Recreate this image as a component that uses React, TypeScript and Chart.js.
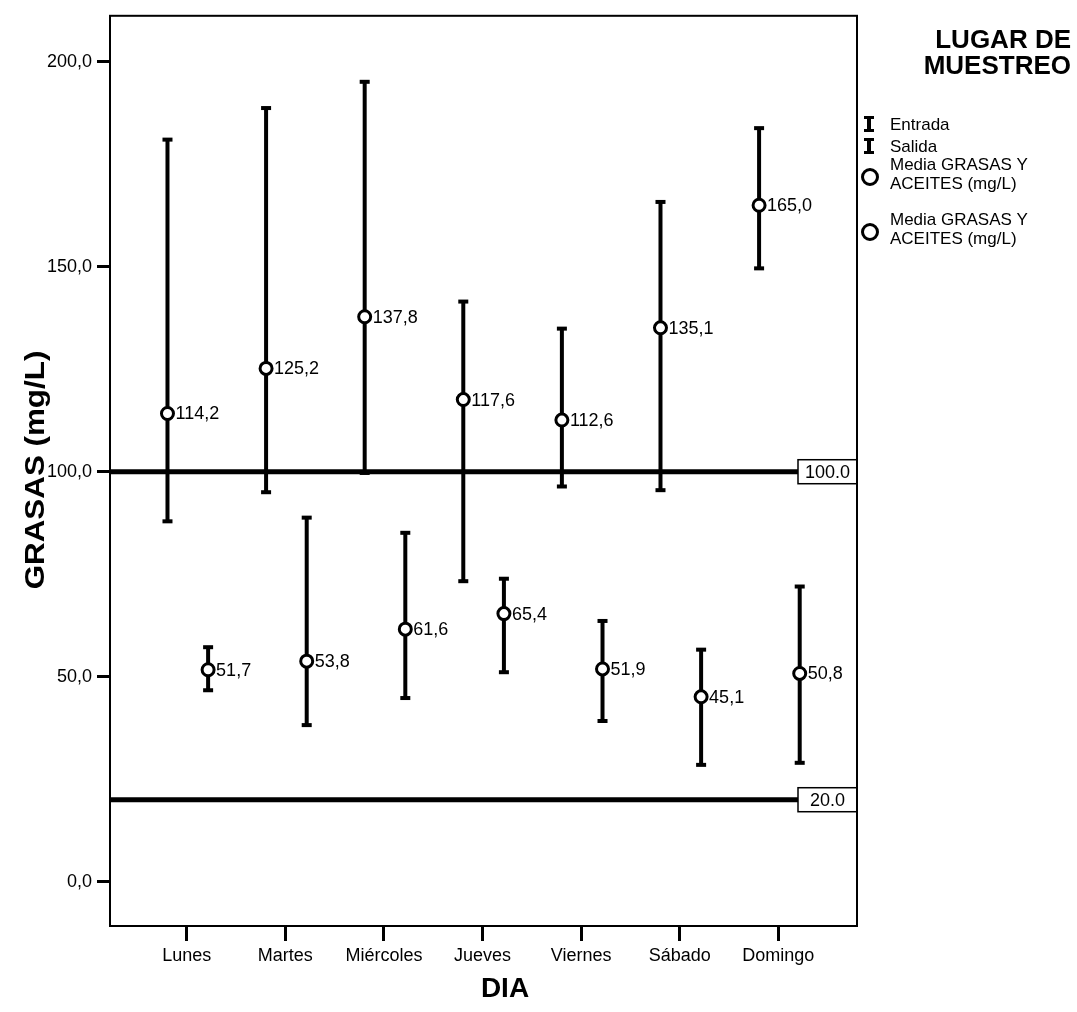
import React, { useEffect, useRef } from "react";
import { Chart, registerables } from "chart.js";

Chart.register(...registerables);

const days = ["Lunes", "Martes", "Miércoles", "Jueves", "Viernes", "Sábado", "Domingo"];
const entradaMean = [114.2, 125.2, 137.8, 117.6, 112.6, 135.1, 165.0];
const entradaLow = [87.9, 95.0, 99.7, 73.3, 96.4, 95.5, 149.6];
const entradaHigh = [181.0, 188.7, 195.1, 141.5, 134.9, 165.8, 183.8];
const salidaMean = [51.7, 53.8, 61.6, 65.4, 51.9, 45.1, 50.8];
const salidaLow = [46.7, 38.2, 44.8, 51.1, 39.2, 28.5, 29.0];
const salidaHigh = [57.2, 88.8, 85.1, 73.9, 63.6, 56.6, 72.0];
const refLines = [100, 20];
const yTicks = [0, 50, 100, 150, 200];
const legendTitle = ["LUGAR DE", "MUESTREO"];
const legendItems = ["Entrada", "Salida"];
const meanLegend = ["Media GRASAS Y", "ACEITES (mg/L)"];

const ENTRADA_OFF = -0.195;
const SALIDA_OFF = 0.217;
const FONT = "'Liberation Sans', Arial, sans-serif";
const fmt = (v: number) => v.toFixed(1).replace(".", ",");

const groups = [
  { off: ENTRADA_OFF, mean: entradaMean, low: entradaLow, high: entradaHigh },
  { off: SALIDA_OFF, mean: salidaMean, low: salidaLow, high: salidaHigh },
];

const customPlugin = {
  id: "custom",
  beforeDatasetsDraw(chart: any) {
    const { ctx, chartArea, scales } = chart;
    const xs = scales.x;
    const ys = scales.y;
    ctx.save();
    refLines.forEach((v) => {
      const y = ys.getPixelForValue(v);
      const boxL = 798;
      ctx.strokeStyle = "#000";
      ctx.lineWidth = 5;
      ctx.beginPath();
      ctx.moveTo(chartArea.left, y);
      ctx.lineTo(boxL, y);
      ctx.stroke();
      ctx.fillStyle = "#fff";
      ctx.fillRect(boxL, y - 12, chartArea.right - boxL, 24);
      ctx.lineWidth = 1.5;
      ctx.strokeRect(boxL, y - 12, chartArea.right - boxL, 24);
      ctx.fillStyle = "#000";
      ctx.font = `18px ${FONT}`;
      ctx.textAlign = "center";
      ctx.textBaseline = "middle";
      ctx.fillText(v.toFixed(1), (boxL + chartArea.right) / 2, y + 1);
    });
    groups.forEach((g) => {
      g.mean.forEach((_, i) => {
        const x = xs.getPixelForValue(i + g.off);
        const yl = ys.getPixelForValue(g.low[i]);
        const yh = ys.getPixelForValue(g.high[i]);
        ctx.strokeStyle = "#000";
        ctx.lineWidth = 4;
        ctx.beginPath();
        ctx.moveTo(x, yl);
        ctx.lineTo(x, yh);
        ctx.stroke();
        ctx.fillStyle = "#000";
        ctx.fillRect(x - 5, yh - 2, 10, 4);
        ctx.fillRect(x - 5, yl - 2, 10, 4);
      });
    });
    ctx.restore();
  },
  afterDatasetsDraw(chart: any) {
    const { ctx, scales } = chart;
    ctx.save();
    ctx.fillStyle = "#000";
    ctx.font = `18px ${FONT}`;
    ctx.textAlign = "left";
    ctx.textBaseline = "middle";
    groups.forEach((g) => {
      g.mean.forEach((m, i) => {
        const x = scales.x.getPixelForValue(i + g.off);
        const y = scales.y.getPixelForValue(m);
        ctx.fillText(fmt(m), x + 8, y + 1);
      });
    });
    ctx.restore();
  },
  afterDraw(chart: any) {
    const { ctx, chartArea } = chart;
    ctx.save();
    ctx.strokeStyle = "#000";
    ctx.lineWidth = 2;
    ctx.strokeRect(chartArea.left, chartArea.top, chartArea.right - chartArea.left, chartArea.bottom - chartArea.top);
    ctx.fillStyle = "#000";
    ctx.textAlign = "center";
    ctx.textBaseline = "middle";
    ctx.font = `bold 28px ${FONT}`;
    ctx.fillText("DIA", 505, 989);
    ctx.save();
    ctx.translate(36, 470);
    ctx.rotate(-Math.PI / 2);
    ctx.scale(1.12, 1);
    ctx.fillText("GRASAS (mg/L)", 0, 0);
    ctx.restore();
    ctx.font = `bold 26px ${FONT}`;
    ctx.textAlign = "right";
    ctx.fillText(legendTitle[0], 1071, 41);
    ctx.fillText(legendTitle[1], 1071, 67);
    ctx.textAlign = "left";
    ctx.font = `17px ${FONT}`;
    const itemY = [124, 146];
    legendItems.forEach((t, i) => {
      const y = itemY[i];
      ctx.fillRect(867, y - 7, 4, 14);
      ctx.fillRect(864, y - 8, 10, 3);
      ctx.fillRect(864, y + 5, 10, 3);
      ctx.fillText(t, 890, y + 1);
    });
    const circY = [177, 232];
    circY.forEach((cy) => {
      ctx.lineWidth = 3;
      ctx.beginPath();
      ctx.arc(870, cy, 7.5, 0, Math.PI * 2);
      ctx.stroke();
      ctx.fillText(meanLegend[0], 890, cy - 12);
      ctx.fillText(meanLegend[1], 890, cy + 7);
    });
    ctx.restore();
  },
};

export default function App() {
  const ref = useRef<HTMLCanvasElement>(null);
  useEffect(() => {
    if (!ref.current) return;
    const mkData = (g: any) => g.mean.map((m: number, i: number) => ({ x: i + g.off, y: m }));
    const pointStyle = {
      pointRadius: 6,
      pointBorderWidth: 3,
      pointBackgroundColor: "#fff",
      pointBorderColor: "#000",
    };
    const chart = new Chart(ref.current, {
      type: "scatter",
      data: {
        datasets: [
          { label: "Entrada", data: mkData(groups[0]), ...pointStyle },
          { label: "Salida", data: mkData(groups[1]), ...pointStyle },
        ],
      },
      options: {
        responsive: false,
        animation: false,
        devicePixelRatio: 1,
        layout: { padding: { left: 0, top: 11, right: 220, bottom: 0 } },
        plugins: { legend: { display: false }, tooltip: { enabled: false }, title: { display: false } },
        scales: {
          x: {
            type: "linear",
            min: -0.778,
            max: 6.798,
            afterFit: (s: any) => {
              s.height = 86;
            },
            afterBuildTicks: (s: any) => {
              s.ticks = days.map((_, i) => ({ value: i }));
            },
            ticks: {
              color: "#000",
              font: { family: FONT, size: 18 },
              padding: 4,
              maxRotation: 0,
              autoSkip: false,
              callback: (v: any) => days[v] ?? "",
            },
            grid: {
              drawOnChartArea: false,
              drawTicks: true,
              tickLength: 15,
              tickWidth: 3,
              tickColor: "#000",
            },
            border: { display: true, color: "#000", width: 2 },
          },
          y: {
            type: "linear",
            min: -10.8,
            max: 211.2,
            afterFit: (s: any) => {
              s.width = 110;
            },
            afterBuildTicks: (s: any) => {
              s.ticks = yTicks.map((v) => ({ value: v }));
            },
            ticks: {
              color: "#000",
              font: { family: FONT, size: 18 },
              padding: 5,
              callback: (v: any) => fmt(Number(v)),
            },
            grid: {
              drawOnChartArea: false,
              drawTicks: true,
              tickLength: 13,
              tickWidth: 3,
              tickColor: "#000",
            },
            border: { display: true, color: "#000", width: 2 },
          },
        },
      },
      plugins: [customPlugin],
    });
    return () => chart.destroy();
  }, []);
  return (
    <div style={{ position: "absolute", left: 0, top: 0, width: 1077, height: 1012, background: "#fff" }}>
      <canvas ref={ref} width={1077} height={1012} style={{ display: "block" }} />
    </div>
  );
}
